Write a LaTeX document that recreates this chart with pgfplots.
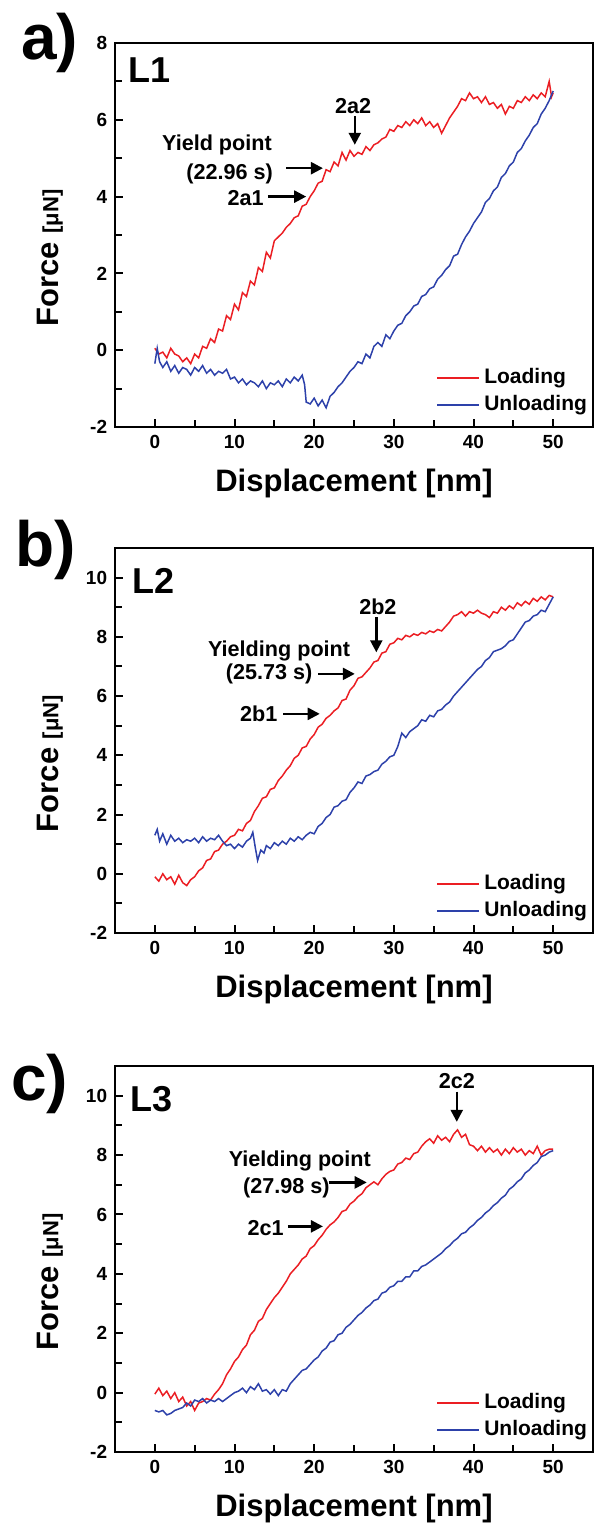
\documentclass[border=0pt]{standalone}
\usepackage{fontspec}
\setmainfont{Liberation Sans}
\usepackage{pgfplots}
\pgfplotsset{compat=1.18}
\usetikzlibrary{arrows.meta}
\definecolor{myred}{RGB}{235,30,35}
\definecolor{myblue}{RGB}{45,65,170}

\pgfplotsset{
  panel/.style={
    scale only axis, width=239pt,
    xmin=-5, xmax=55,
    xtick={0,10,...,50}, minor xtick={5,15,...,45},
    xtick pos=bottom, ytick pos=left,
    tick align=inside,
    major tick length=4pt, minor tick length=3.5pt,
    major tick style={line width=1pt,black},
    minor tick style={line width=1pt,black},
    every axis/.append style={line width=1.25pt},
    tick label style={font=\bfseries\fontsize{9.5}{10}\selectfont},
    /pgf/number format/assume math mode=true,
    xlabel={Displacement [nm]},
    xlabel style={font=\bfseries\fontsize{15.5}{16}\selectfont, at={(axis description cs:0.5,-0.146)}, anchor=center},
    ylabel={Force {\fontsize{11}{11}\selectfont[μN]}},
    ylabel style={font=\bfseries\fontsize{15.5}{16}\selectfont, at={(axis description cs:-0.136,0.44)}, anchor=center},
  },
  ld/.style={color=myred, line width=0.75pt},
  ul/.style={color=myblue, line width=0.75pt},
}
\tikzset{
  ann/.style={font=\bfseries\fontsize{10.8}{11}\selectfont, inner sep=0pt},
  lab/.style={font=\bfseries\fontsize{18}{18}\selectfont, inner sep=0pt, anchor=west},
  arr/.style={-{Triangle[length=6pt,width=6pt]}, line width=1.2pt, black},
  legtxt/.style={font=\bfseries\fontsize{10.5}{11}\selectfont, inner sep=0pt, anchor=west},
  mylegend/.code={
    \draw[color=myred, line width=0.75pt] (axis description cs:0.674,0.127) -- ++(21pt,0pt);
    \node[legtxt] at (axis description cs:0.77,0.127) {Loading};
    \draw[color=myblue, line width=0.75pt] (axis description cs:0.674,0.057) -- ++(21pt,0pt);
    \node[legtxt] at (axis description cs:0.77,0.057) {Unloading};
  },
}

\begin{document}
\begin{tikzpicture}
\useasboundingbox (0pt,0pt) rectangle (297.5pt,-763pt);

% ---------------- panel a ----------------
\begin{axis}[panel, at={(57.5pt,-213.5pt)}, anchor=south west, height=192pt,
  ymin=-2, ymax=8, ytick={-2,0,...,8}, minor ytick={-1,1,...,7}]
\addplot[ld] coordinates {(0,0.05)(0.5,-0.1)(1,-0.05)(1.5,-0.2)(2,0.05)(2.5,-0.1)(3,-0.15)(3.5,-0.3)(4,-0.2)(4.5,-0.35)(5,-0.1)(5.5,-0.2)(6,0.1)(6.5,0.05)(7,0.3)(7.5,0.2)(8,0.55)(8.5,0.5)(9,0.9)(9.5,0.8)(10,1.2)(10.5,1.05)(11,1.5)(11.5,1.4)(12,1.8)(12.5,1.7)(13,2.15)(13.5,2.05)(14,2.55)(14.5,2.4)(15,2.85)(15.5,2.95)(16,3.05)(16.5,3.2)(17,3.3)(17.5,3.45)(18,3.5)(18.5,3.75)(19,3.8)(19.5,4.0)(20,4.15)(20.5,4.35)(21,4.4)(21.5,4.7)(22,4.65)(22.5,4.9)(23,4.8)(23.5,5.15)(24,4.95)(24.5,5.2)(25,5.05)(25.5,5.15)(26,5.1)(26.5,5.3)(27,5.2)(27.5,5.35)(28,5.4)(28.5,5.5)(29,5.55)(29.5,5.75)(30,5.7)(30.5,5.85)(31,5.8)(31.5,5.95)(32,5.85)(32.5,6.0)(33,5.9)(33.5,6.05)(34,5.85)(34.5,5.95)(35,5.8)(35.5,5.9)(36,5.65)(36.5,5.85)(37,6.05)(37.5,6.2)(38,6.35)(38.5,6.55)(39,6.5)(39.5,6.7)(40,6.55)(40.5,6.6)(41,6.45)(41.5,6.6)(42,6.4)(42.5,6.45)(43,6.3)(43.5,6.4)(44,6.15)(44.5,6.35)(45,6.3)(45.5,6.5)(46,6.45)(46.5,6.6)(47,6.5)(47.5,6.65)(48,6.55)(48.5,6.7)(49,6.6)(49.5,7.0)(49.8,6.6)(50,6.7)};
\addplot[ul] coordinates {(0,-0.35)(0.3,0.05)(0.6,-0.3)(1,-0.45)(1.5,-0.3)(2,-0.55)(2.5,-0.4)(3,-0.6)(3.5,-0.45)(4,-0.5)(4.5,-0.65)(5,-0.45)(5.5,-0.55)(6,-0.4)(6.5,-0.6)(7,-0.5)(7.5,-0.65)(8,-0.55)(8.5,-0.6)(9,-0.5)(9.5,-0.75)(10,-0.7)(10.5,-0.85)(11,-0.75)(11.5,-0.9)(12,-0.8)(12.5,-0.85)(13,-0.95)(13.5,-0.8)(14,-1.0)(14.5,-0.85)(15,-0.9)(15.5,-0.8)(16,-0.95)(16.5,-0.75)(17,-0.85)(17.5,-0.7)(18,-0.8)(18.5,-0.65)(18.8,-0.9)(19,-1.35)(19.5,-1.4)(20,-1.25)(20.5,-1.45)(21,-1.3)(21.5,-1.5)(22,-1.2)(22.5,-1.1)(23,-0.95)(23.5,-0.85)(24,-0.7)(24.5,-0.55)(25,-0.45)(25.5,-0.3)(26,-0.35)(26.5,-0.1)(27,-0.2)(27.5,0.1)(28,0.2)(28.5,0.1)(29,0.4)(29.5,0.3)(30,0.5)(30.5,0.65)(31,0.7)(31.5,0.9)(32,1.0)(32.5,1.15)(33,1.2)(33.5,1.4)(34,1.45)(34.5,1.6)(35,1.65)(35.5,1.85)(36,1.95)(36.5,2.1)(37,2.2)(37.5,2.45)(38,2.5)(38.5,2.75)(39,2.95)(39.5,3.1)(40,3.3)(40.5,3.45)(41,3.6)(41.5,3.85)(42,3.95)(42.5,4.15)(43,4.25)(43.5,4.5)(44,4.6)(44.5,4.8)(45,4.9)(45.5,5.15)(46,5.25)(46.5,5.45)(47,5.6)(47.5,5.8)(48,5.9)(48.5,6.15)(49,6.3)(49.5,6.5)(50,6.75)};
\node[lab] at (axis cs:-3.4,7.3) {L1};
\node[ann] at (axis cs:7.8,5.35) {Yield point};
\node[ann] at (axis cs:9.4,4.6) {(22.96 s)};
\draw[arr] (axis cs:16.5,4.74) -- (axis cs:21.1,4.74);
\node[ann] at (axis cs:11.4,3.96) {2a1};
\draw[arr] (axis cs:14.2,4.0) -- (axis cs:19.0,4.0);
\node[ann] at (axis cs:24.9,6.35) {2a2};
\draw[arr] (axis cs:25.1,6.1) -- (axis cs:25.1,5.35);
\pgfkeys{/tikz/mylegend}
\end{axis}

% ---------------- panel b ----------------
\begin{axis}[panel, at={(57.5pt,-466.5pt)}, anchor=south west, height=192.5pt,
  ymin=-2, ymax=11, ytick={-2,0,...,10}, minor ytick={-1,1,...,9}]
\addplot[ld] coordinates {(0,-0.1)(0.5,-0.25)(1,0.0)(1.5,-0.2)(2,-0.1)(2.5,-0.35)(3,-0.05)(3.5,-0.3)(4,-0.4)(4.5,-0.2)(5,-0.1)(5.5,0.1)(6,0.2)(6.5,0.45)(7,0.5)(7.5,0.75)(8,0.8)(8.5,1.0)(9,1.1)(9.5,1.25)(10,1.3)(10.5,1.5)(11,1.45)(11.5,1.7)(12,1.8)(12.5,2.1)(13,2.3)(13.5,2.55)(14,2.6)(14.5,2.85)(15,2.9)(15.5,3.15)(16,3.3)(16.5,3.5)(17,3.65)(17.5,3.9)(18,4.0)(18.5,4.25)(19,4.3)(19.5,4.55)(20,4.7)(20.5,4.95)(21,5.05)(21.5,5.25)(22,5.35)(22.5,5.5)(23,5.6)(23.5,5.85)(24,5.9)(24.5,6.2)(25,6.35)(25.5,6.6)(26,6.65)(26.5,6.8)(27,6.95)(27.5,7.15)(28,7.2)(28.5,7.45)(29,7.5)(29.5,7.75)(30,7.8)(30.5,7.95)(31,7.9)(31.5,8.05)(32,8.0)(32.5,8.1)(33,8.05)(33.5,8.15)(34,8.1)(34.5,8.2)(35,8.15)(35.5,8.25)(36,8.2)(36.5,8.35)(37,8.5)(37.5,8.7)(38,8.75)(38.5,8.85)(39,8.7)(39.5,8.85)(40,8.8)(40.5,8.9)(41,8.8)(41.5,8.75)(42,8.65)(42.5,8.85)(43,8.8)(43.5,9.0)(44,8.9)(44.5,9.05)(45,8.95)(45.5,9.15)(46,9.05)(46.5,9.2)(47,9.1)(47.5,9.3)(48,9.2)(48.5,9.35)(49,9.25)(49.5,9.4)(50,9.35)};
\addplot[ul] coordinates {(0,1.3)(0.3,1.5)(0.6,1.1)(1,1.35)(1.5,1.0)(2,1.3)(2.5,1.1)(3,1.2)(3.5,1.05)(4,1.15)(4.5,1.1)(5,1.2)(5.5,1.05)(6,1.25)(6.5,1.1)(7,1.2)(7.5,1.15)(8,1.3)(8.5,1.1)(9,0.95)(9.5,1.0)(10,0.85)(10.5,1.0)(11,0.9)(11.5,1.1)(12,1.2)(12.3,1.4)(12.6,0.9)(12.9,0.45)(13.3,0.8)(13.7,0.7)(14,0.95)(14.5,0.85)(15,1.05)(15.5,0.95)(16,1.1)(16.5,1.0)(17,1.2)(17.5,1.1)(18,1.25)(18.5,1.15)(19,1.3)(19.5,1.4)(20,1.35)(20.5,1.6)(21,1.7)(21.5,1.9)(22,2.0)(22.5,2.25)(23,2.3)(23.5,2.45)(24,2.5)(24.5,2.75)(25,2.9)(25.5,3.1)(26,3.05)(26.5,3.3)(27,3.35)(27.5,3.45)(28,3.5)(28.5,3.7)(29,3.8)(29.5,3.95)(30,4.0)(30.5,4.3)(31,4.75)(31.5,4.6)(32,4.8)(32.5,4.9)(33,5.0)(33.5,5.2)(34,5.15)(34.5,5.35)(35,5.3)(35.5,5.5)(36,5.55)(36.5,5.7)(37,5.8)(37.5,6.0)(38,6.15)(38.5,6.3)(39,6.45)(39.5,6.6)(40,6.75)(40.5,6.9)(41,7.0)(41.5,7.2)(42,7.3)(42.5,7.5)(43,7.55)(43.5,7.6)(44,7.7)(44.5,7.85)(45,7.9)(45.5,8.1)(46,8.3)(46.5,8.5)(47,8.55)(47.5,8.7)(48,8.75)(48.5,8.9)(49,8.85)(49.5,9.1)(50,9.35)};
\node[lab] at (axis cs:-2.9,9.9) {L2};
\node[ann] at (axis cs:15.6,7.54) {Yielding point};
\node[ann] at (axis cs:14.35,6.75) {(25.73 s)};
\draw[arr] (axis cs:20.5,6.75) -- (axis cs:25.1,6.75);
\node[ann] at (axis cs:13.05,5.4) {2b1};
\draw[arr] (axis cs:16.1,5.4) -- (axis cs:20.7,5.4);
\node[ann] at (axis cs:28.0,9.0) {2b2};
\draw[arr] (axis cs:27.8,8.67) -- (axis cs:27.8,7.48);
\pgfkeys{/tikz/mylegend}
\end{axis}

% ---------------- panel c ----------------
\begin{axis}[panel, at={(57.5pt,-726pt)}, anchor=south west, height=193pt,
  ymin=-2, ymax=11, ytick={-2,0,...,10}, minor ytick={-1,1,...,9}]
\addplot[ld] coordinates {(0,-0.05)(0.5,0.15)(1,-0.1)(1.5,0.05)(2,-0.2)(2.5,0.0)(3,-0.3)(3.5,-0.15)(4,-0.45)(4.5,-0.3)(5,-0.6)(5.5,-0.35)(6,-0.3)(6.5,-0.2)(7,-0.25)(7.5,-0.05)(8,0.1)(8.5,0.3)(9,0.6)(9.5,0.8)(10,1.05)(10.5,1.2)(11,1.45)(11.5,1.6)(12,1.95)(12.5,2.1)(13,2.4)(13.5,2.5)(14,2.8)(14.5,3.0)(15,3.2)(15.5,3.35)(16,3.55)(16.5,3.75)(17,4.0)(17.5,4.15)(18,4.3)(18.5,4.5)(19,4.6)(19.5,4.85)(20,4.95)(20.5,5.15)(21,5.3)(21.5,5.5)(22,5.65)(22.5,5.75)(23,5.9)(23.5,6.1)(24,6.15)(24.5,6.35)(25,6.45)(25.5,6.6)(26,6.7)(26.5,6.9)(27,7.0)(27.5,7.1)(28,7.0)(28.5,7.2)(29,7.35)(29.5,7.45)(30,7.5)(30.5,7.7)(31,7.75)(31.5,7.9)(32,7.85)(32.5,8.05)(33,8.1)(33.5,8.3)(34,8.45)(34.5,8.55)(35,8.4)(35.5,8.65)(36,8.5)(36.5,8.6)(37,8.45)(37.5,8.7)(38,8.85)(38.5,8.6)(39,8.7)(39.5,8.35)(40,8.3)(40.5,8.15)(41,8.3)(41.5,8.1)(42,8.25)(42.5,8.1)(43,8.2)(43.5,8.0)(44,8.2)(44.5,8.05)(45,8.25)(45.5,8.1)(46,8.2)(46.5,8.0)(47,8.15)(47.5,8.05)(48,8.3)(48.5,8.0)(49,8.15)(49.5,8.2)(50,8.2)};
\addplot[ul] coordinates {(0,-0.6)(0.5,-0.65)(1,-0.6)(1.5,-0.75)(2,-0.7)(2.5,-0.6)(3,-0.55)(3.5,-0.5)(4,-0.35)(4.5,-0.45)(5,-0.25)(5.5,-0.3)(6,-0.2)(6.5,-0.35)(7,-0.25)(7.5,-0.3)(8,-0.2)(8.5,-0.3)(9,-0.2)(9.5,-0.1)(10,0.0)(10.5,0.05)(11,0.15)(11.5,0.0)(12,0.2)(12.5,0.1)(13,0.3)(13.5,0.05)(14,0.1)(14.5,-0.05)(15,0.1)(15.5,-0.1)(16,0.1)(16.5,0.05)(17,0.3)(17.5,0.45)(18,0.6)(18.5,0.75)(19,0.8)(19.5,0.95)(20,1.1)(20.5,1.2)(21,1.4)(21.5,1.5)(22,1.7)(22.5,1.75)(23,1.95)(23.5,2.0)(24,2.2)(24.5,2.3)(25,2.45)(25.5,2.6)(26,2.7)(26.5,2.85)(27,2.95)(27.5,3.1)(28,3.15)(28.5,3.35)(29,3.4)(29.5,3.55)(30,3.6)(30.5,3.75)(31,3.75)(31.5,3.9)(32,3.9)(32.5,4.1)(33,4.1)(33.5,4.25)(34,4.3)(34.5,4.4)(35,4.5)(35.5,4.6)(36,4.7)(36.5,4.85)(37,4.95)(37.5,5.1)(38,5.2)(38.5,5.35)(39,5.4)(39.5,5.55)(40,5.65)(40.5,5.8)(41,5.9)(41.5,6.05)(42,6.15)(42.5,6.3)(43,6.4)(43.5,6.55)(44,6.65)(44.5,6.85)(45,6.95)(45.5,7.1)(46,7.2)(46.5,7.4)(47,7.5)(47.5,7.65)(48,7.75)(48.5,7.95)(49,8.0)(49.5,8.1)(50,8.15)};
\node[lab] at (axis cs:-3.2,9.9) {L3};
\node[ann] at (axis cs:18.2,7.81) {Yielding point};
\node[ann] at (axis cs:16.5,6.91) {(27.98 s)};
\draw[arr] (axis cs:21.8,7.08) -- (axis cs:26.6,7.08);
\node[ann] at (axis cs:13.9,5.55) {2c1};
\draw[arr] (axis cs:16.7,5.6) -- (axis cs:21.1,5.6);
\node[ann] at (axis cs:37.9,10.48) {2c2};
\draw[arr] (axis cs:37.9,10.14) -- (axis cs:37.9,9.12);
\pgfkeys{/tikz/mylegend}
\end{axis}

% panel letters
\node[anchor=base west, inner sep=0pt, font=\bfseries\fontsize{32}{32}\selectfont] at (10.5pt,-29.5pt) {a)};
\node[anchor=base west, inner sep=0pt, font=\bfseries\fontsize{32}{32}\selectfont] at (7.5pt,-283pt) {b)};
\node[anchor=base west, inner sep=0pt, font=\bfseries\fontsize{32}{32}\selectfont] at (5.5pt,-550pt) {c)};
\end{tikzpicture}
\end{document}
